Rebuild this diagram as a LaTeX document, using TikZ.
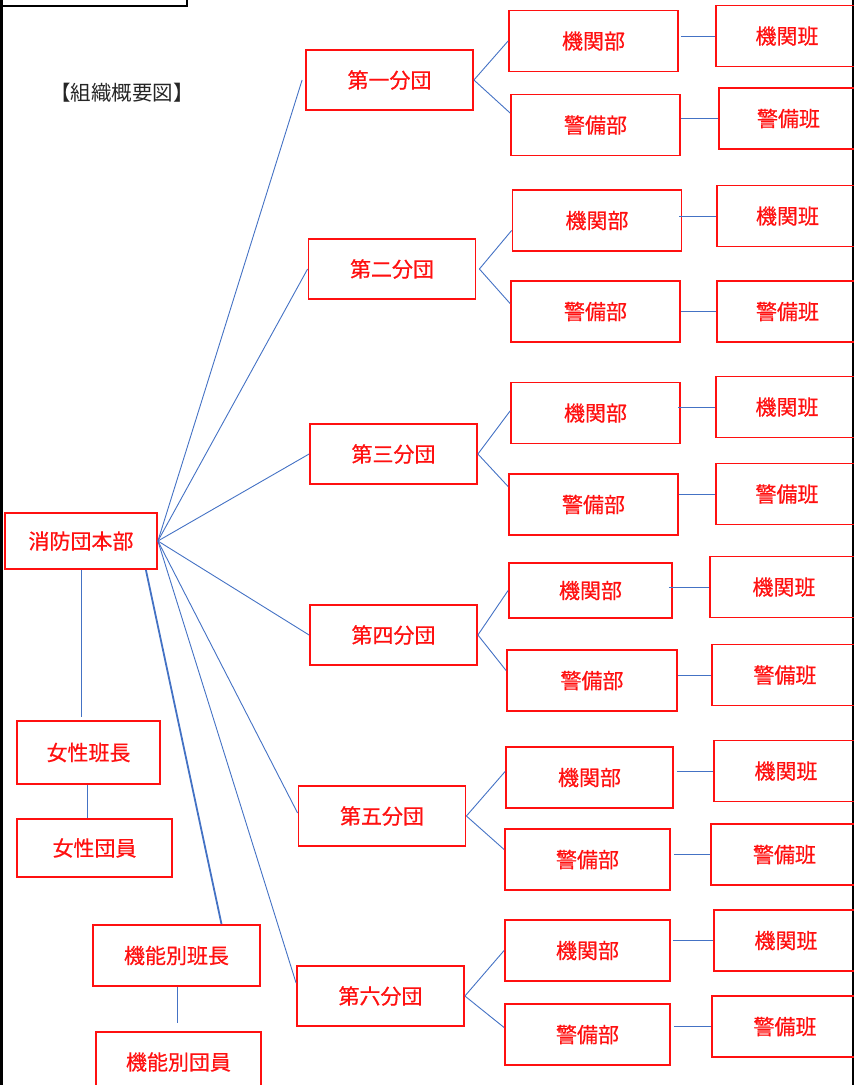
\documentclass[tikz,border=0pt]{standalone}
\usepackage{fontspec}
\setmainfont{Noto Sans CJK JP}
\newfontfamily\boxfont{Noto Sans CJK JP}[FakeBold=0.6]
\usepackage{xcolor}
\definecolor{linkblue}{HTML}{4472C4}
\definecolor{boxred}{HTML}{FF1010}

\begin{document}
\begin{tikzpicture}[x=1pt, y=-1pt,
	box/.style={draw=boxred, line width=1.8pt, text=boxred, inner sep=0pt,
			font=\boxfont\fontsize{21}{25}\selectfont},
	branch/.style={box, minimum width=167, minimum height=60},
	dept/.style={box, minimum width=169, minimum height=61},
	team/.style={box, minimum width=142, minimum height=61},
	link/.style={draw=linkblue, line width=0.9pt}]
	\useasboundingbox (0,0) rectangle (854,1085);

	% frame
	\draw[line width=2.5pt] (1,-10) rectangle (187,6);
	\draw[line width=3pt] (1,0) -- (1,1085);
	\draw[line width=2pt] (853,0) -- (853,1085);
	\node[font=\fontsize{20.5}{24}\selectfont, text=black!85] (title) at (122,93) {【組織概要図】};

	% left column
	\node[box, minimum width=152, minimum height=56] (hq) at (81,541) {消防団本部};
	\node[box, minimum width=143, minimum height=63] (jh) at (88.5,752.5) {女性班長};
	\node[box, minimum width=155, minimum height=58] (jd) at (94.5,848) {女性団員};
	\node[box, minimum width=167, minimum height=61] (kh) at (176.5,955.5) {機能別班長};
	\node[box, minimum width=165, minimum height=60] (kd) at (178.5,1062) {機能別団員};

	% branches
	\node[branch] (b1) at (389.5,80) {第一分団};
	\node[branch] (b2) at (392,269) {第二分団};
	\node[branch] (b3) at (393.5,454) {第三分団};
	\node[branch] (b4) at (393.5,635) {第四分団};
	\node[branch] (b5) at (382,816) {第五分団};
	\node[branch] (b6) at (380.5,996) {第六分団};

	% departments
	\node[dept] (k1) at (593.5,41) {機関部};
	\node[dept] (g1) at (595.5,125) {警備部};
	\node[dept] (k2) at (597,220.5) {機関部};
	\node[dept] (g2) at (595.5,311.5) {警備部};
	\node[dept] (k3) at (595.5,413) {機関部};
	\node[dept] (g3) at (593.5,504.5) {警備部};
	\node[dept, minimum width=163, minimum height=55] (k4) at (590.5,590.5) {機関部};
	\node[dept, minimum width=170] (g4) at (592,680.5) {警備部};
	\node[dept, minimum width=167] (k5) at (589.5,777.5) {機関部};
	\node[dept, minimum width=165] (g5) at (587.5,859.5) {警備部};
	\node[dept, minimum width=165] (k6) at (587.5,950.5) {機関部};
	\node[dept, minimum width=165] (g6) at (587.5,1034.5) {警備部};

	% teams
	\node[team] (kt1) at (787,36) {機関班};
	\node[team, minimum width=139] (gt1) at (788.5,118.5) {警備班};
	\node[team, minimum width=141] (kt2) at (787.5,216) {機関班};
	\node[team, minimum width=141] (gt2) at (787.5,311.5) {警備班};
	\node[team] (kt3) at (787,407) {機関班};
	\node[team] (gt3) at (787,494) {警備班};
	\node[team, minimum width=148] (kt4) at (784,587) {機関班};
	\node[team, minimum width=146] (gt4) at (785,675) {警備班};
	\node[team, minimum width=144] (kt5) at (786,771) {機関班};
	\node[team, minimum width=147] (gt5) at (784.5,854.5) {警備班};
	\node[team, minimum width=144] (kt6) at (786,940.5) {機関班};
	\node[team, minimum width=146] (gt6) at (785,1026.5) {警備班};

	% headquarters to branches
	\draw[link] (hq.east) -- ([xshift=-3]b1.west);
	\draw[link] (hq.east) -- (b2.west);
	\draw[link] (hq.east) -- (b3.west);
	\draw[link] (hq.east) -- (b4.west);
	\draw[link] (hq.east) -- ([yshift=3]b5.west);
	\draw[link] (hq.east) -- ([yshift=13]b6.west);

	% left column links
	\draw[link] (hq.south) -- ([yshift=3]hq.south |- jh.north);
	\draw[link] ([xshift=-1.5]jh.south) -- ([xshift=-1.5]jh.south |- jd.north);
	\draw[link, line width=1.8pt] ([xshift=-12]hq.south east) -- ([xshift=45]kh.north);
	\draw[link] ([xshift=1]kh.south) -- ([xshift=1,yshift=8]kh.south |- kd.north);

	% branches to departments
	\draw[link] (b1.east) -- (k1.west);
	\draw[link] (b1.east) -- ([yshift=12]g1.west);
	\draw[link] ([xshift=3]b2.east) -- ([yshift=-10]k2.west);
	\draw[link] ([xshift=3]b2.east) -- ([yshift=8]g2.west);
	\draw[link] (b3.east) -- ([yshift=2]k3.west);
	\draw[link] (b3.east) -- ([yshift=18]g3.west);
	\draw[link] (b4.east) -- (k4.west);
	\draw[link] (b4.east) -- ([yshift=10]g4.west);
	\draw[link] (b5.east) -- ([yshift=6]k5.west);
	\draw[link] (b5.east) -- ([yshift=10]g5.west);
	\draw[link] (b6.east) -- (k6.west);
	\draw[link] (b6.east) -- ([yshift=7]g6.west);

	% departments to teams
	\draw[link] ([xshift=2]k1.east |- kt1.west) -- (kt1.west);
	\draw[link] (g1.east |- gt1.west) -- (gt1.west);
	\draw[link] ([xshift=-3]k2.east |- kt2.west) -- (kt2.west);
	\draw[link] (g2.east |- gt2.west) -- (gt2.west);
	\draw[link] ([xshift=-3]k3.east |- kt3.west) -- (kt3.west);
	\draw[link] (g3.east |- gt3.west) -- (gt3.west);
	\draw[link] ([xshift=-4]k4.east |- kt4.west) -- (kt4.west);
	\draw[link] (g4.east |- gt4.west) -- (gt4.west);
	\draw[link] ([xshift=3]k5.east |- kt5.west) -- (kt5.west);
	\draw[link] ([xshift=3]g5.east |- gt5.west) -- (gt5.west);
	\draw[link] ([xshift=2]k6.east |- kt6.west) -- (kt6.west);
	\draw[link] ([xshift=3]g6.east |- gt6.west) -- (gt6.west);
\end{tikzpicture}
\end{document}
